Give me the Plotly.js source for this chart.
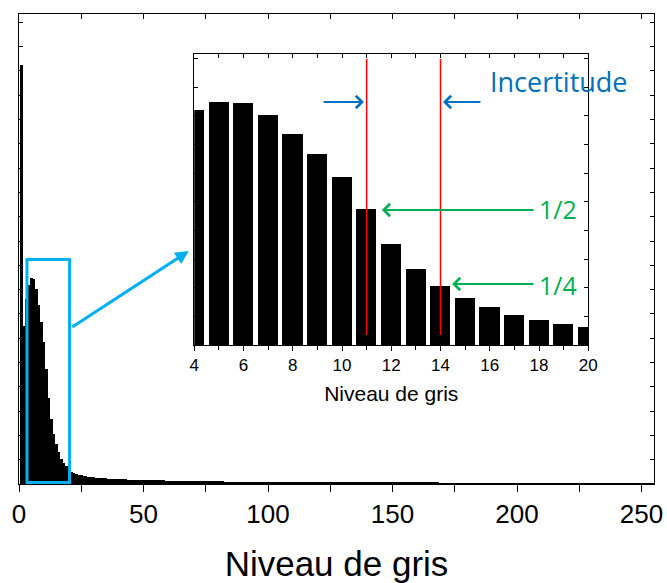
<!DOCTYPE html>
<html>
<head>
<meta charset="utf-8">
<script src="https://cdn.plot.ly/plotly-3.0.1.min.js"></script>
<style>html,body{margin:0;padding:0;background:#fff;}#chart{width:667px;height:583px;}</style>
</head>
<body>
<div id="chart"></div>
<script>
// Grey levels 0..255
const greyLevels = Array.from({length: 256}, (_, i) => i);
// Pixel counts per grey level (arbitrary units)
const counts = [
  0, 17250, 6500, 7600, 8200, 8467, 8443, 8025, 7350, 6652,
  5850, 4745, 3524, 2663, 2059, 1640, 1314, 1047, 872, 721,
  616, 506, 460, 420, 385, 358, 337, 317, 300, 284,
  272, 263, 255, 247, 239, 231, 222, 216, 210, 205,
  200, 196, 192, 188, 184, 180, 177, 174, 171, 168,
  165, 162, 159, 156, 153, 151, 149, 147, 145, 143,
  140, 138, 136, 134, 132, 130, 128, 126, 124, 123,
  122, 120, 118, 116, 115, 113, 112, 110, 109, 108,
  107, 105, 104, 102, 101, 100, 98, 97, 96, 95,
  94, 93, 92, 91, 90, 89, 88, 87, 86, 85,
  83, 82, 81, 80, 80, 79, 78, 77, 76, 76,
  75, 74, 73, 73, 72, 71, 71, 70, 69, 69,
  68, 67, 67, 66, 65, 65, 64, 63, 63, 62,
  62, 61, 60, 60, 59, 59, 58, 57, 57, 56,
  56, 55, 55, 54, 54, 53, 53, 52, 52, 51,
  51, 50, 50, 49, 49, 48, 48, 47, 47, 46,
  46, 45, 45, 44, 44, 43, 43, 42, 42, 41,
  40, 39, 38, 37, 36, 35, 34, 33, 32, 31,
  30, 29, 28, 27, 26, 25, 24, 24, 23, 22,
  22, 21, 21, 20, 20, 19, 19, 18, 18, 17,
  17, 17, 16, 16, 15, 15, 15, 14, 14, 14,
  13, 13, 13, 12, 12, 12, 12, 11, 11, 11,
  11, 10, 10, 10, 10, 10, 9, 9, 9, 9,
  9, 9, 8, 8, 8, 8, 8, 8, 7, 7,
  7, 7, 7, 7, 7, 6, 6, 6, 6, 6,
  6, 6, 6, 5, 5, 5
];
// Zoomed window
const zoomStart = 4, zoomEnd = 20;
const zoomLevels = greyLevels.slice(zoomStart, zoomEnd + 1);
const zoomCounts = counts.slice(zoomStart, zoomEnd + 1);
// Uncertainty bounds (grey levels at 1/2 and 1/4 of the peak)
const halfLevel = 11, quarterLevel = 14;
const mainTicks = [0, 50, 100, 150, 200, 250];
const insetTicks = [4, 6, 8, 10, 12, 14, 16, 18, 20];

const axisFont = {family: 'Liberation Sans, Arial, sans-serif', color: '#000'};
const blueBox = '#00B0F0';
const blueTxt = '#0070C0';
const green = '#00B050';
const noteFont = 'Open Sans, Lato, sans-serif';

const traces = [
  {type: 'bar', x: greyLevels, y: counts, width: 1, xaxis: 'x', yaxis: 'y',
   marker: {color: '#000', line: {width: 0}}, hoverinfo: 'x+y', showlegend: false},
  {type: 'scatter', mode: 'markers', x: [], y: [], xaxis: 'x3', yaxis: 'y', showlegend: false, hoverinfo: 'skip'},
  {type: 'bar', x: zoomLevels, y: zoomCounts, width: 0.82, xaxis: 'x2', yaxis: 'y2',
   marker: {color: '#000', line: {width: 0}}, hoverinfo: 'x+y', showlegend: false},
  {type: 'scatter', mode: 'markers', x: [], y: [], xaxis: 'x4', yaxis: 'y2', showlegend: false, hoverinfo: 'skip'}
];

const layout = {
  width: 667, height: 583,
  margin: {l: 19, r: 13, t: 14, b: 99},
  paper_bgcolor: '#fff', plot_bgcolor: 'rgba(0,0,0,0)',
  showlegend: false,
  bargap: 0, bargroupgap: 0,
  xaxis: {
    domain: [0, 1], range: [0, 255], anchor: 'y',
    tickvals: mainTicks, ticks: 'outside', ticklen: 7, tickwidth: 1, tickcolor: '#000',
    minor: {dtick: 25, tick0: 0, ticks: 'outside', ticklen: 7, tickwidth: 1, tickcolor: '#000'},
    showline: true, linecolor: '#000', linewidth: 1.3, mirror: true,
    showgrid: false, zeroline: false,
    tickfont: Object.assign({size: 26}, axisFont),
    title: {text: 'Niveau de gris', font: Object.assign({size: 35}, axisFont), standoff: 28}
  },
  xaxis3: {
    overlaying: 'x', side: 'top', anchor: 'y', range: [0, 255],
    dtick: 25, tick0: 0, ticks: 'inside', ticklen: 5, tickcolor: '#000',
    showticklabels: false, showline: false, showgrid: false, zeroline: false
  },
  yaxis: {
    domain: [0, 1], range: [0, 19345], anchor: 'x',
    dtick: 1000, tick0: 0, ticks: 'inside', ticklen: 4, tickcolor: '#000',
    showticklabels: false, showline: true, linecolor: '#000', linewidth: 1.3, mirror: 'ticks',
    showgrid: false, zeroline: false
  },
  xaxis2: {
    domain: [0.276, 0.8965], range: [zoomStart, zoomEnd], anchor: 'y2',
    tickvals: insetTicks, ticks: 'outside', ticklen: 5, tickwidth: 1, tickcolor: '#000',
    minor: {dtick: 1, tick0: 0, ticks: 'outside', ticklen: 4, tickwidth: 1, tickcolor: '#000'},
    showline: true, linecolor: '#000', linewidth: 1, mirror: true,
    showgrid: false, zeroline: false,
    tickfont: Object.assign({size: 17}, axisFont),
    title: {text: 'Niveau de gris', font: Object.assign({size: 21}, axisFont), standoff: 11}
  },
  xaxis4: {
    overlaying: 'x2', side: 'top', anchor: 'y2', range: [zoomStart, zoomEnd],
    dtick: 1, tick0: 0, ticks: 'inside', ticklen: 4, tickcolor: '#000',
    showticklabels: false, showline: false, showgrid: false, zeroline: false
  },
  yaxis2: {
    domain: [0.2957, 0.9149], range: [0, 10153], anchor: 'x2',
    dtick: 1000, tick0: 0, ticks: 'inside', ticklen: 4, tickcolor: '#000',
    showticklabels: false, showline: true, linecolor: '#000', linewidth: 1, mirror: 'ticks',
    showgrid: false, zeroline: false
  },
  shapes: [
    {type: 'rect', xref: 'x', yref: 'y', x0: 3.2, x1: 20.3, y0: 62, y1: 9240,
     line: {color: blueBox, width: 3}, fillcolor: 'rgba(0,0,0,0)'},
    {type: 'line', xref: 'x2', yref: 'y2', x0: halfLevel, x1: halfLevel, y0: 349, y1: 9980,
     line: {color: '#FF0000', width: 1.5}},
    {type: 'line', xref: 'x2', yref: 'y2', x0: quarterLevel, x1: quarterLevel, y0: 349, y1: 9980,
     line: {color: '#FF0000', width: 1.5}}
  ],
  annotations: [
    {xref: 'x', yref: 'y', axref: 'x', ayref: 'y', x: 68.2, y: 9590, ax: 20.8, ay: 6420,
     text: '', showarrow: true, arrowhead: 2, arrowsize: 0.9, arrowwidth: 3, arrowcolor: blueBox},
    {xref: 'x2', yref: 'y2', axref: 'x2', ayref: 'y2', x: 10.89, y: 8480, ax: 9.19, ay: 8480,
     text: '', showarrow: true, arrowhead: 4, arrowsize: 1.2, arrowwidth: 2, arrowcolor: blueTxt},
    {xref: 'x2', yref: 'y2', axref: 'x2', ayref: 'y2', x: 14.10, y: 8480, ax: 15.68, ay: 8480,
     text: '', showarrow: true, arrowhead: 4, arrowsize: 1.2, arrowwidth: 2, arrowcolor: blueTxt},
    {xref: 'x2', yref: 'y2', axref: 'x2', ayref: 'y2', x: 11.62, y: 4711, ax: 17.84, ay: 4711,
     text: '', showarrow: true, arrowhead: 4, arrowsize: 1.2, arrowwidth: 2, arrowcolor: green},
    {xref: 'x2', yref: 'y2', axref: 'x2', ayref: 'y2', x: 14.47, y: 2129, ax: 17.84, ay: 2129,
     text: '', showarrow: true, arrowhead: 4, arrowsize: 1.2, arrowwidth: 2, arrowcolor: green},
    {xref: 'x2', yref: 'y2', x: 18.81, y: 9179, text: 'Incertitude', showarrow: false,
     font: {family: noteFont, size: 27, color: blueTxt}},
    {xref: 'x2', yref: 'y2', x: 18.77, y: 4746, text: '1/2', showarrow: false,
     font: {family: noteFont, size: 25, color: green}},
    {xref: 'x2', yref: 'y2', x: 18.77, y: 2094, text: '1/4', showarrow: false,
     font: {family: noteFont, size: 25, color: green}}
  ]
};

Plotly.newPlot('chart', traces, layout, {displayModeBar: false, responsive: false});
</script>
</body>
</html>
